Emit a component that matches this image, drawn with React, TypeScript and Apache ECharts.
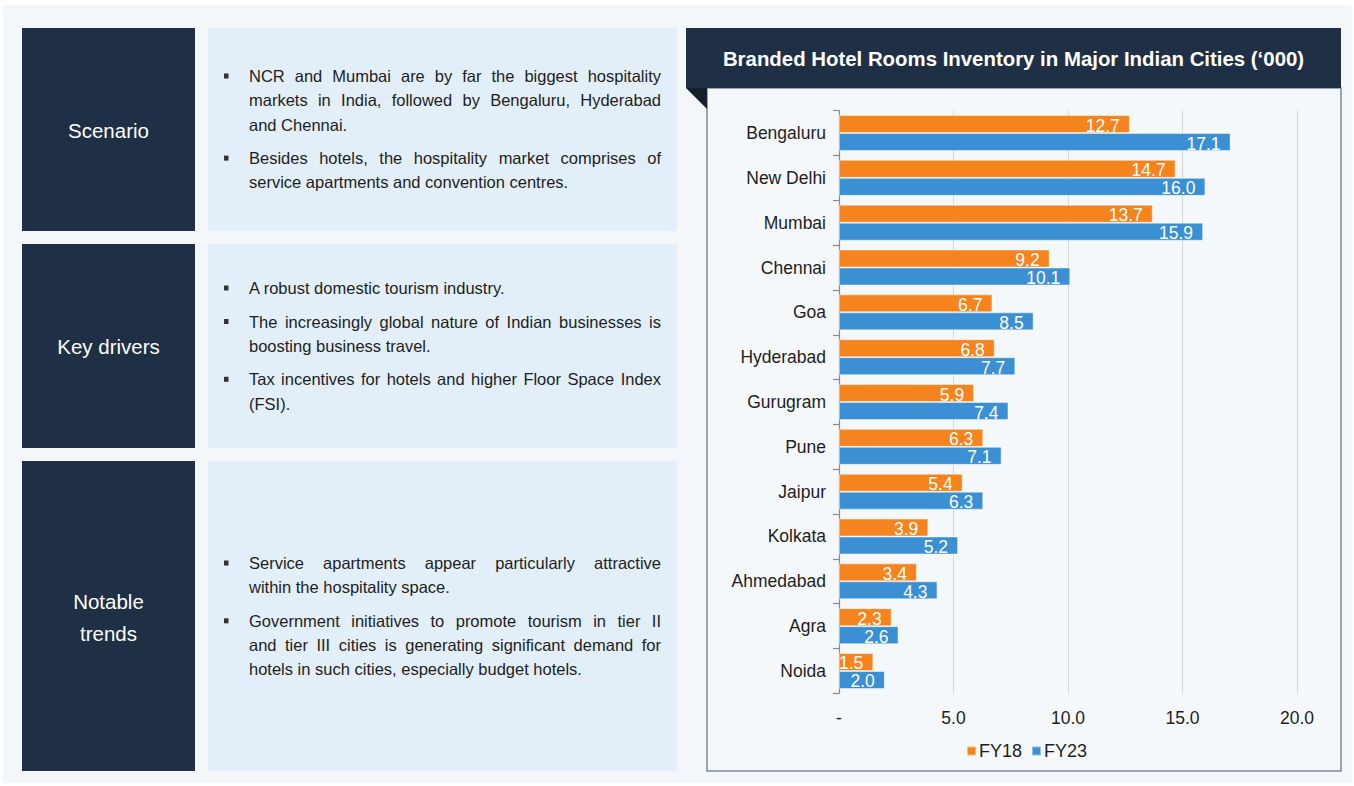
import React, { useEffect, useRef } from "react";
import * as echarts from "echarts";

const categories = ["Bengaluru", "New Delhi", "Mumbai", "Chennai", "Goa", "Hyderabad", "Gurugram", "Pune", "Jaipur", "Kolkata", "Ahmedabad", "Agra", "Noida"];
const fy18 = [12.7, 14.7, 13.7, 9.2, 6.7, 6.8, 5.9, 6.3, 5.4, 3.9, 3.4, 2.3, 1.5];
const fy23 = [17.1, 16.0, 15.9, 10.1, 8.5, 7.7, 7.4, 7.1, 6.3, 5.2, 4.3, 2.6, 2.0];
const seriesNames = ["FY18", "FY23"];
const chartTitle = "Branded Hotel Rooms Inventory in Major Indian Cities (\u2018000)";

const panelLabels = [["Scenario"], ["Key drivers"], ["Notable", "trends"]];
const panelParagraphs = [
  [
    ["NCR and Mumbai are by far the biggest hospitality", "markets in India, followed by Bengaluru, Hyderabad", "and Chennai."],
    ["Besides hotels, the hospitality market comprises of", "service apartments and convention centres."],
  ],
  [
    ["A robust domestic tourism industry."],
    ["The increasingly global nature of Indian businesses is", "boosting business travel."],
    ["Tax incentives for hotels and higher Floor Space Index", "(FSI)."],
  ],
  [
    ["Service apartments appear particularly attractive", "within the hospitality space."],
    ["Government initiatives to promote tourism in tier II", "and tier III cities is generating significant demand for", "hotels in such cities, especially budget hotels."],
  ],
];

const FONT = "'Liberation Sans', Arial, Helvetica, sans-serif";
const NAVY = "#1f2f46";
const TEXT = "#1e1e1e";

// layout
const panelBoxes = [
  { y0: 28, y1: 231, firstY: 76, labelY: [130] },
  { y0: 244, y1: 448, firstY: 288, labelY: [346] },
  { y0: 461, y1: 771, firstY: 563, labelY: [601, 633] },
];
const LINE_H = 24.3;
const PARA_GAP = 33.5;
const TX0 = 249;
const TX1 = 661;
const BODY_SIZE = 16.5;

let measureCtx: CanvasRenderingContext2D | null = null;
function measure(t: string, size: number) {
  if (!measureCtx) {
    const c = document.createElement("canvas");
    measureCtx = c.getContext("2d");
  }
  if (!measureCtx) return t.length * size * 0.5;
  measureCtx.font = `${size}px ${FONT}`;
  return measureCtx.measureText(t).width;
}

function textEl(text: string, x: number, y: number, extra: any = {}) {
  return {
    type: "text",
    z: 10,
    style: {
      text,
      x,
      y,
      fill: TEXT,
      fontSize: BODY_SIZE,
      fontFamily: FONT,
      align: "left",
      verticalAlign: "middle",
      ...extra,
    },
  };
}

function buildPanels() {
  const els: any[] = [];
  panelBoxes.forEach((b, i) => {
    els.push({ type: "rect", z: -5, shape: { x: 22, y: b.y0, width: 173, height: b.y1 - b.y0 }, style: { fill: NAVY } });
    els.push({ type: "rect", z: -5, shape: { x: 208, y: b.y0, width: 469, height: b.y1 - b.y0 }, style: { fill: "#e2eef8" } });
    panelLabels[i].forEach((lab, k) => {
      els.push(textEl(lab, 108.5, b.labelY[k], { fill: "#ffffff", fontSize: 20.5, align: "center" }));
    });
    let y = b.firstY;
    panelParagraphs[i].forEach((para, p) => {
      if (p > 0) y += PARA_GAP - LINE_H;
      els.push({ type: "rect", z: 10, shape: { x: 224, y: y - 2.5, width: 4.5, height: 5 }, style: { fill: "#333" } });
      para.forEach((line, li) => {
        const justify = li < para.length - 1;
        if (!justify) {
          els.push(textEl(line, TX0, y));
        } else {
          const words = line.split(" ");
          const widths = words.map((w) => measure(w, BODY_SIZE));
          const total = widths.reduce((a, c) => a + c, 0);
          const gap = (TX1 - TX0 - total) / (words.length - 1);
          let x = TX0;
          words.forEach((w, wi) => {
            els.push(textEl(w, x, y));
            x += widths[wi] + gap;
          });
        }
        y += LINE_H;
      });
    });
  });
  return els;
}

export default function App() {
  const ref = useRef<HTMLDivElement>(null);
  useEffect(() => {
    if (!ref.current) return;
    const chart = echarts.init(ref.current, null, { renderer: "svg" });
    const labelCfg = {
      show: true,
      position: "insideRight",
      distance: 10,
      offset: [0, 1.5],
      color: "#ffffff",
      fontSize: 17.5,
      fontFamily: FONT,
      formatter: (p: any) => p.value.toFixed(1),
    };
    const option: any = {
      animation: false,
      backgroundColor: "#ffffff",
      graphic: [
        { type: "rect", z: -20, shape: { x: 3, y: 5, width: 1349, height: 778 }, style: { fill: "#f3f7f9" } },
        ...buildPanels(),
        { type: "rect", z: -5, shape: { x: 707, y: 88, width: 634, height: 683 }, style: { fill: "#f5f8fa", stroke: "#7f8a90", lineWidth: 1.5 } },
        { type: "rect", z: -5, shape: { x: 686, y: 28, width: 655, height: 60 }, style: { fill: NAVY } },
        { type: "polygon", z: -5, shape: { points: [[686, 88], [707, 88], [707, 109]] }, style: { fill: "#14212c" } },
        textEl(chartTitle, 1013.5, 59, { fill: "#ffffff", fontSize: 20.4, fontWeight: "bold", align: "center" }),
      ],
      grid: {
        left: 839,
        right: 57,
        top: 110.6,
        bottom: 92.6,
        containLabel: false,
        outerBoundsMode: "none",
      },
      legend: {
        data: seriesNames,
        left: 961,
        top: 737,
        icon: "rect",
        itemWidth: 9,
        itemHeight: 9,
        itemGap: 9,
        textStyle: { fontSize: 18, color: TEXT, fontFamily: FONT, padding: [0, 0, 0, -2] },
      },
      xAxis: {
        type: "value",
        min: 0,
        max: 20,
        interval: 5,
        axisLine: { show: false },
        axisTick: { show: false },
        splitLine: { show: true, lineStyle: { color: "#d4d6d8", width: 1 } },
        axisLabel: {
          margin: 16,
          fontSize: 17.5,
          color: TEXT,
          fontFamily: FONT,
          formatter: (v: number) => (v === 0 ? "-" : v.toFixed(1)),
        },
      },
      yAxis: {
        type: "category",
        inverse: true,
        data: categories,
        axisLine: { show: true, lineStyle: { color: "#8a8a8a", width: 1.2 } },
        axisTick: { show: true, length: 6, lineStyle: { color: "#8a8a8a", width: 1.2 } },
        axisLabel: { margin: 13, fontSize: 17.5, color: TEXT, fontFamily: FONT },
      },
      series: [
        {
          name: seriesNames[0],
          type: "bar",
          data: fy18,
          barWidth: 18,
          barGap: "0%",
          itemStyle: { color: "#f5841f", borderColor: "rgba(255,255,255,0.45)", borderWidth: 1 },
          label: labelCfg,
        },
        {
          name: seriesNames[1],
          type: "bar",
          data: fy23,
          barWidth: 18,
          barGap: "0%",
          itemStyle: { color: "#3a90d2", borderColor: "rgba(255,255,255,0.45)", borderWidth: 1 },
          label: labelCfg,
        },
      ],
    };
    chart.setOption(option);
    return () => chart.dispose();
  }, []);
  return <div ref={ref} style={{ position: "fixed", left: 0, top: 0, width: 1354, height: 786 }} />;
}
